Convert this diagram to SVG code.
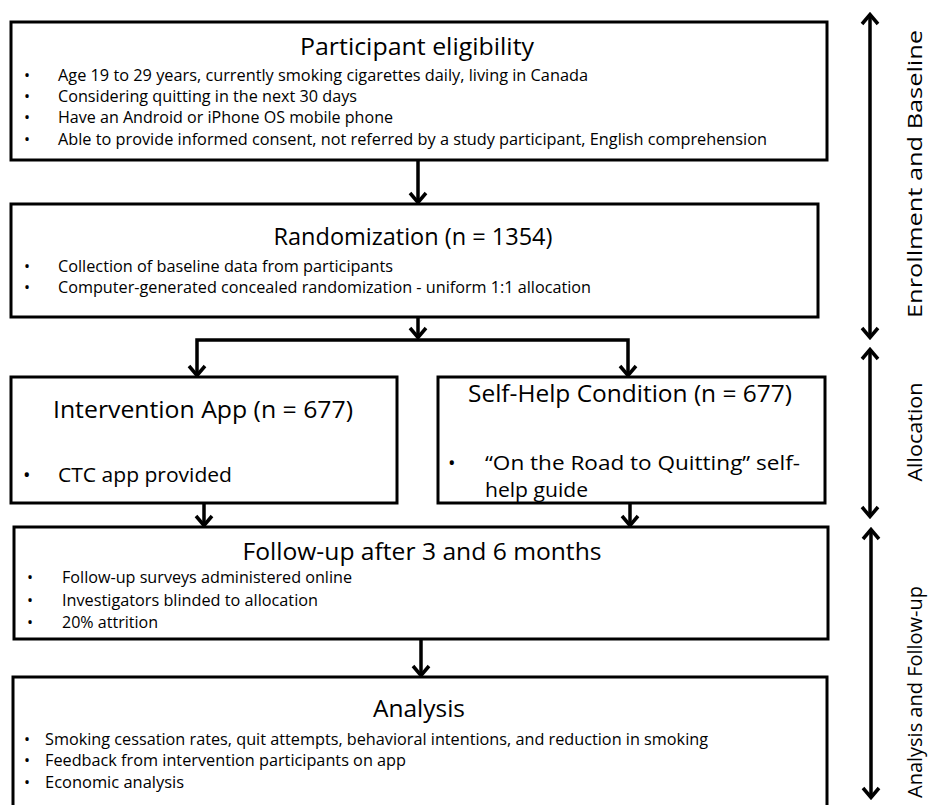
<svg xmlns="http://www.w3.org/2000/svg" width="930" height="805" viewBox="0 0 930 805">
<defs>
<style>
.box{fill:#fff;stroke:#000;stroke-width:3}
.t{font-family:"Open Sans","Liberation Sans",sans-serif;fill:#000}
.title{font-size:24px;text-anchor:middle}
.b{font-size:16px}
.b2{font-size:20px}
.side{font-size:20px;text-anchor:middle}
.c{fill:none;stroke:#000;stroke-width:3.5}
</style>
<marker id="ah" viewBox="-12 -10 14 20" refX="0" refY="0" markerWidth="14" markerHeight="20" markerUnits="userSpaceOnUse" orient="auto-start-reverse">
<path d="M-10,-8 L-0.5,0 L-10,8" fill="none" stroke="#000" stroke-width="3.5"/>
</marker>
</defs>
<rect width="930" height="805" fill="#fff"/>

<g id="connectors">
<line class="c" x1="418" y1="160" x2="418" y2="203" marker-end="url(#ah)"/>
<line class="c" x1="418" y1="317" x2="418" y2="338" marker-end="url(#ah)"/>
<polyline class="c" points="418,340 197,340 197,376" marker-end="url(#ah)"/>
<polyline class="c" points="418,340 628,340 628,376" marker-end="url(#ah)"/>
<line class="c" x1="204" y1="503" x2="204" y2="526" marker-end="url(#ah)"/>
<line class="c" x1="630" y1="503" x2="630" y2="526" marker-end="url(#ah)"/>
<line class="c" x1="421" y1="639" x2="421" y2="676" marker-end="url(#ah)"/>
<line class="c" x1="870" y1="14" x2="870" y2="338" marker-start="url(#ah)" marker-end="url(#ah)"/>
<line class="c" x1="870" y1="349" x2="870" y2="517" marker-start="url(#ah)" marker-end="url(#ah)"/>
<line class="c" x1="871" y1="529" x2="871" y2="798" marker-start="url(#ah)" marker-end="url(#ah)"/>
</g>

<g id="eligibility">
<rect class="box" x="11" y="22" width="816" height="138"/>
<text class="t title" x="417" y="55" textLength="234" lengthAdjust="spacingAndGlyphs">Participant eligibility</text>
<text class="t b" x="24" y="81">•</text>
<text class="t b" x="58" y="81" textLength="530" lengthAdjust="spacingAndGlyphs">Age 19 to 29 years, currently smoking cigarettes daily, living in Canada</text>
<text class="t b" x="24" y="102">•</text>
<text class="t b" x="58" y="102" textLength="299" lengthAdjust="spacingAndGlyphs">Considering quitting in the next 30 days</text>
<text class="t b" x="24" y="123">•</text>
<text class="t b" x="58" y="123" textLength="335" lengthAdjust="spacingAndGlyphs">Have an Android or iPhone OS mobile phone</text>
<text class="t b" x="24" y="145">•</text>
<text class="t b" x="58" y="145" textLength="709" lengthAdjust="spacingAndGlyphs">Able to provide informed consent,  not referred by a study participant, English comprehension</text>
</g>

<g id="randomization">
<rect class="box" x="11" y="204" width="807" height="113"/>
<text class="t title" x="413" y="245" textLength="279" lengthAdjust="spacingAndGlyphs">Randomization (n = 1354)</text>
<text class="t b" x="24" y="272">•</text>
<text class="t b" x="58" y="272" textLength="335" lengthAdjust="spacingAndGlyphs">Collection of baseline data from participants</text>
<text class="t b" x="24" y="293">•</text>
<text class="t b" x="58" y="293" textLength="533" lengthAdjust="spacingAndGlyphs">Computer-generated  concealed randomization  - uniform 1:1 allocation</text>
</g>

<g id="intervention">
<rect class="box" x="11" y="377" width="386" height="126"/>
<text class="t title" x="203" y="418" textLength="300" lengthAdjust="spacingAndGlyphs">Intervention App (n = 677)</text>
<text class="t b2" x="23" y="482">•</text>
<text class="t b2" x="58" y="482" textLength="174" lengthAdjust="spacingAndGlyphs">CTC app provided</text>
</g>

<g id="selfhelp">
<rect class="box" x="438" y="377" width="387" height="126"/>
<text class="t title" x="630" y="402" textLength="324" lengthAdjust="spacingAndGlyphs">Self-Help Condition (n = 677)</text>
<text class="t b2" x="448" y="470">•</text>
<text class="t b2" x="485" y="470" textLength="315" lengthAdjust="spacingAndGlyphs">“On the Road to Quitting” self-</text>
<text class="t b2" x="485" y="497" textLength="103" lengthAdjust="spacingAndGlyphs">help guide</text>
</g>

<g id="followup">
<rect class="box" x="14" y="527" width="814" height="112"/>
<text class="t title" x="422" y="560" textLength="359" lengthAdjust="spacingAndGlyphs">Follow-up after 3 and 6 months</text>
<text class="t b" x="27" y="583">•</text>
<text class="t b" x="62" y="583" textLength="290" lengthAdjust="spacingAndGlyphs">Follow-up surveys administered online</text>
<text class="t b" x="27" y="606">•</text>
<text class="t b" x="62" y="606" textLength="256" lengthAdjust="spacingAndGlyphs">Investigators blinded to allocation</text>
<text class="t b" x="27" y="628">•</text>
<text class="t b" x="62" y="628" textLength="96" lengthAdjust="spacingAndGlyphs">20% attrition</text>
</g>

<g id="analysis">
<rect class="box" x="13" y="677" width="814" height="140"/>
<text class="t title" x="419" y="717" textLength="92" lengthAdjust="spacingAndGlyphs">Analysis</text>
<text class="t b" x="24" y="745">•</text>
<text class="t b" x="45" y="745" textLength="663" lengthAdjust="spacingAndGlyphs">Smoking cessation rates, quit attempts, behavioral intentions, and reduction in smoking</text>
<text class="t b" x="24" y="766">•</text>
<text class="t b" x="45" y="766" textLength="361" lengthAdjust="spacingAndGlyphs">Feedback from intervention participants on app</text>
<text class="t b" x="24" y="788">•</text>
<text class="t b" x="45" y="788" textLength="139" lengthAdjust="spacingAndGlyphs">Economic analysis</text>
</g>

<g id="phase-labels">
<text class="t side" transform="translate(922,174) rotate(-90)" textLength="288" lengthAdjust="spacingAndGlyphs">Enrollment and Baseline</text>
<text class="t side" transform="translate(922,432) rotate(-90)" textLength="99" lengthAdjust="spacingAndGlyphs">Allocation</text>
<text class="t side" transform="translate(922,692) rotate(-90)" textLength="212" lengthAdjust="spacingAndGlyphs">Analysis and Follow-up</text>
</g>
</svg>
